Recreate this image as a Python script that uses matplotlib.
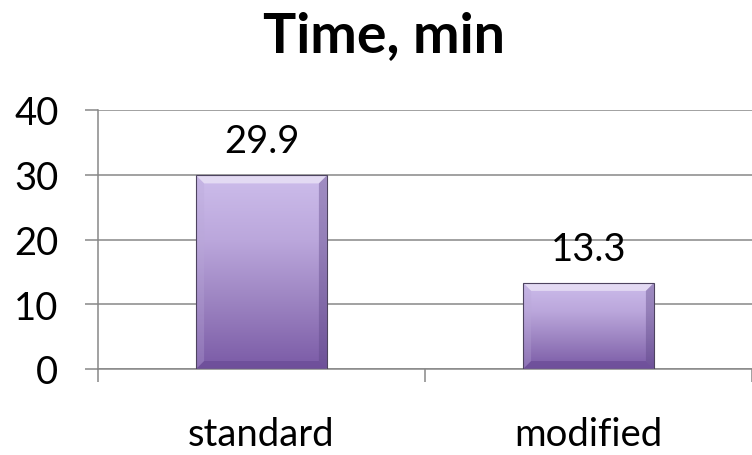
import numpy as np
import matplotlib
matplotlib.use("Agg")
import matplotlib.pyplot as plt
from matplotlib.patches import Polygon
from matplotlib.colors import LinearSegmentedColormap

categories = ["standard", "modified"]
times = [29.9, 13.3]
y_ticks = [0, 10, 20, 30, 40]
title = "Time, min"

FONT = "Lato"
plt.rcParams["font.family"] = [FONT, "DejaVu Sans"]

W, H = 752, 456
fig = plt.figure(figsize=(W / 100, H / 100), dpi=100)
fig.patch.set_facecolor("white")

# axes box in pixels: x 98..752, y 111..370 (from top)
left, right, top, bottom = 98, 752, 111, 370
ax = fig.add_axes([left / W, (H - bottom) / H, (right - left) / W, (bottom - top) / H])
ax.set_facecolor("white")

slot_px = 328.5
ax.set_xlim(-0.5, -0.5 + (right - left) / slot_px)
ax.set_ylim(0, 40)

grey = "#878787"
for s in ["top", "right"]:
    ax.spines[s].set_visible(False)
for s in ["left", "bottom"]:
    ax.spines[s].set_color(grey)
    ax.spines[s].set_linewidth(1.1)

ax.set_yticks(y_ticks)
ax.set_yticklabels([str(v) for v in y_ticks])
ax.yaxis.grid(True, color=grey, linewidth=1.1)
ax.set_axisbelow(True)
ax.tick_params(axis="y", direction="out", length=9.5, width=1.1, color=grey,
               pad=19, labelsize=27.5)

x = np.arange(len(categories))
ax.set_xticks(x)
ax.set_xticklabels(categories)
ax.set_xticks([-0.5, 0.5, 1.5], minor=True)
ax.tick_params(axis="x", which="major", length=0, pad=34, labelsize=27.5)
ax.tick_params(axis="x", which="minor", direction="out", length=9.5, width=1.1, color=grey)

# gradient bars with bevelled edges
bar_w = 0.40
cmap = LinearSegmentedColormap.from_list(
    "bar", ["#7a5aa6", "#9b82c0", "#bba7dc", "#cdbdeb"])
grad = np.linspace(0, 1, 256).reshape(-1, 1)

fig.canvas.draw()
bbox = ax.get_window_extent()
px_x = bbox.width / (ax.get_xlim()[1] - ax.get_xlim()[0])
px_y = bbox.height / (ax.get_ylim()[1] - ax.get_ylim()[0])
bev = 8
dx, dy = bev / px_x, bev / px_y

bars = ax.bar(x, times, width=bar_w, color="none", edgecolor="none", zorder=2)
for rect, val in zip(bars, times):
    x0, x1 = rect.get_x(), rect.get_x() + rect.get_width()
    y0, y1 = 0, val
    im = ax.imshow(grad, cmap=cmap, origin="lower", aspect="auto",
                   extent=(x0, x1, y0, y1), zorder=2, interpolation="bicubic")
    im.set_clip_path(rect)
    # bevel facets
    ax.add_patch(Polygon([(x0, y1), (x1, y1), (x1 - dx, y1 - dy), (x0 + dx, y1 - dy)],
                         closed=True, facecolor="#ece5f7", edgecolor="none", alpha=0.75, zorder=3))
    ax.add_patch(Polygon([(x0, y0), (x1, y0), (x1 - dx, y0 + dy), (x0 + dx, y0 + dy)],
                         closed=True, facecolor="#6a4b96", edgecolor="none", alpha=0.7, zorder=3))
    ax.add_patch(Polygon([(x0, y0), (x0, y1), (x0 + dx, y1 - dy), (x0 + dx, y0 + dy)],
                         closed=True, facecolor="#b9a8d8", edgecolor="none", alpha=0.3, zorder=3))
    ax.add_patch(Polygon([(x1, y0), (x1, y1), (x1 - dx, y1 - dy), (x1 - dx, y0 + dy)],
                         closed=True, facecolor="#5c4585", edgecolor="none", alpha=0.4, zorder=3))
    ax.add_patch(plt.Rectangle((x0, y0), x1 - x0, y1 - y0, facecolor="none",
                               edgecolor="#4e4460", linewidth=0.8, zorder=4))
    ax.annotate(f"{val:.1f}", xy=((x0 + x1) / 2, val), xytext=(0, 16.5),
                textcoords="offset points", ha="center", va="baseline",
                fontsize=27.5, color="black", zorder=5)

fig.text(384 / W, 1 - 52 / H, title, ha="center", va="baseline",
         fontsize=40, fontweight="bold", color="black")

fig.savefig("out.png", dpi=100, facecolor="white")
